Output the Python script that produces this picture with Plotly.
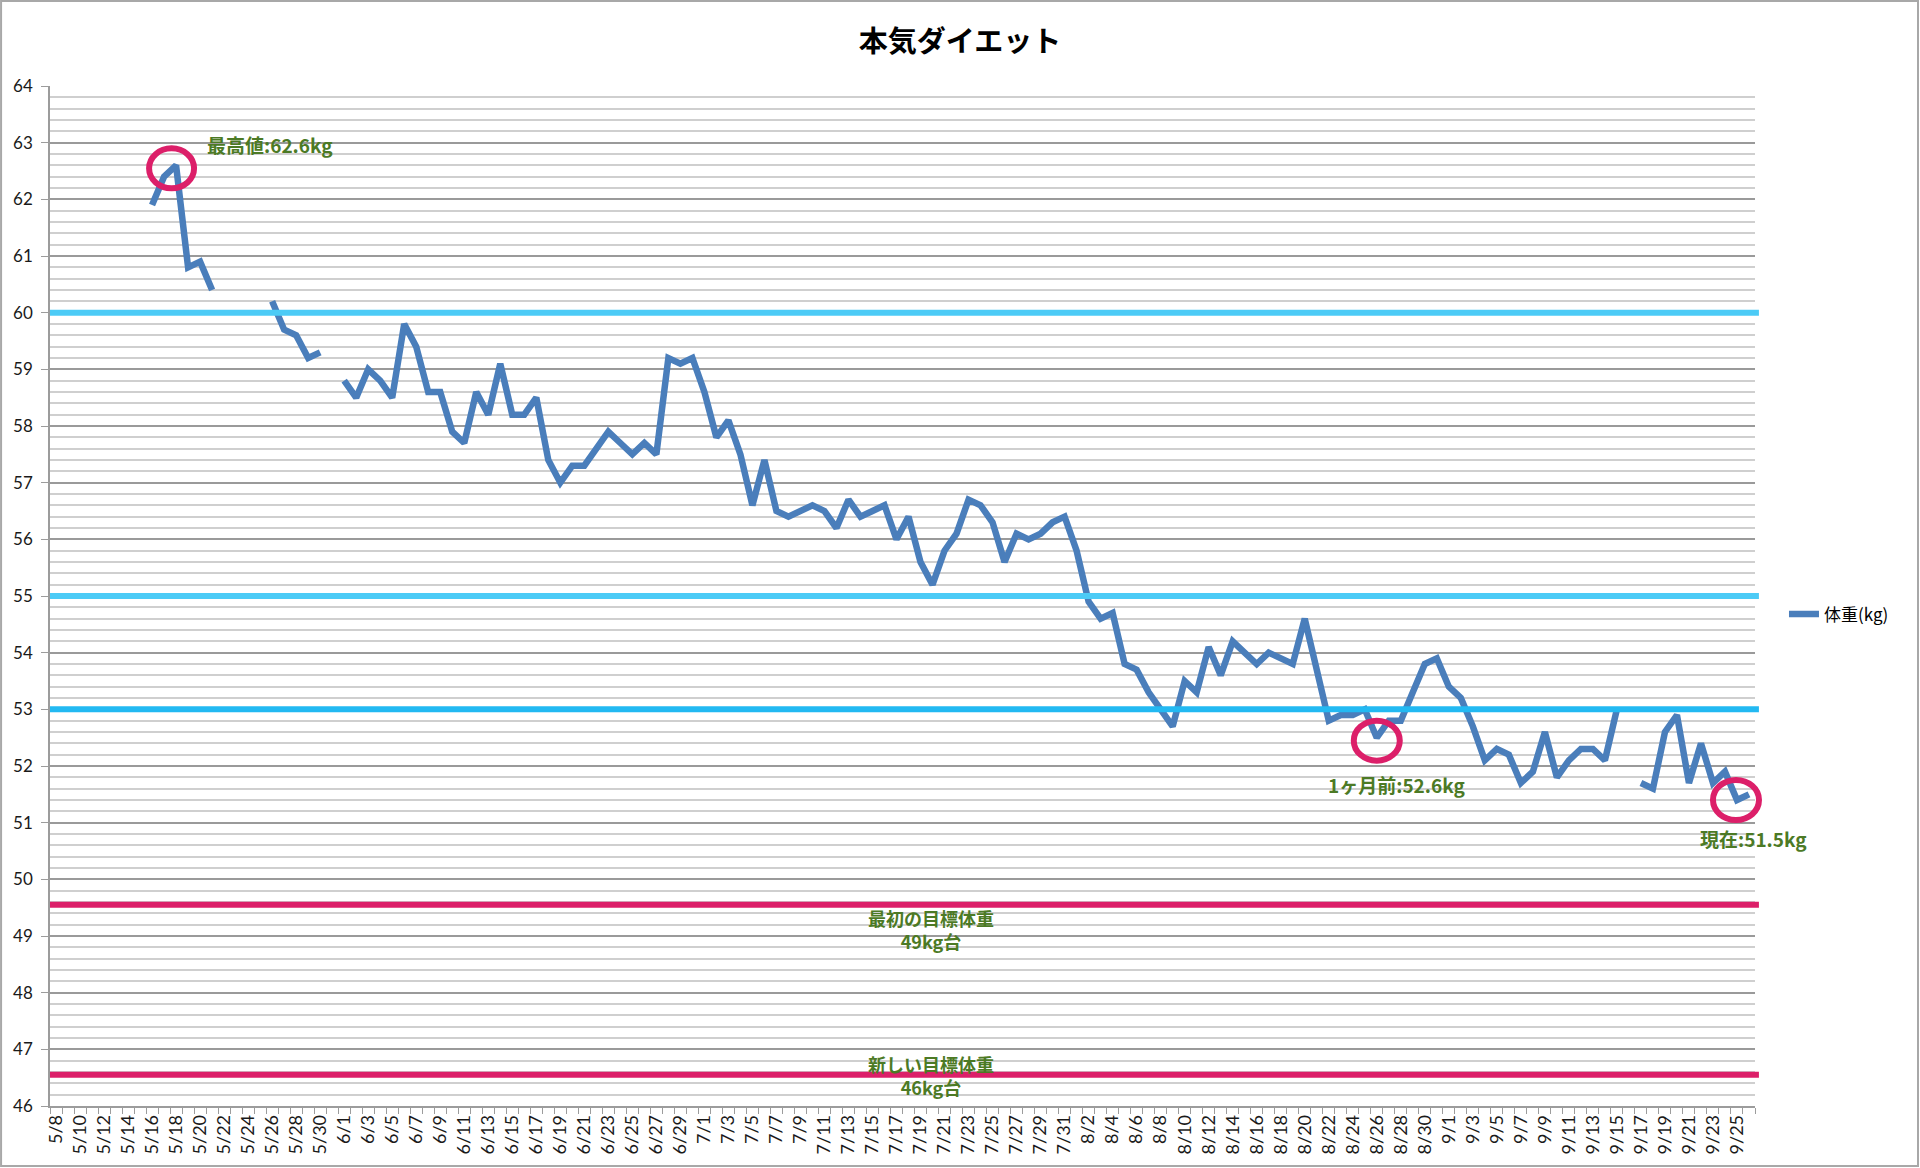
import pandas as pd
import plotly.graph_objects as go

# daily weight (kg), None = no measurement that day
may = [61.9, 62.4, 62.6, 60.8, 60.9, 60.4, None, None, None, None,
       60.2, 59.7, 59.6, 59.2, 59.3, None]                       # 5/16 - 5/31
jun = [58.8, 58.5, 59.0, 58.8, 58.5, 59.8, 59.4, 58.6, 58.6, 57.9,
       57.7, 58.6, 58.2, 59.1, 58.2, 58.2, 58.5, 57.4, 57.0, 57.3,
       57.3, 57.6, 57.9, 57.7, 57.5, 57.7, 57.5, 59.2, 59.1, 59.2]  # 6/1 - 6/30
jul = [58.6, 57.8, 58.1, 57.5, 56.6, 57.4, 56.5, 56.4, 56.5, 56.6,
       56.5, 56.2, 56.7, 56.4, 56.5, 56.6, 56.0, 56.4, 55.6, 55.2,
       55.8, 56.1, 56.7, 56.6, 56.3, 55.6, 56.1, 56.0, 56.1, 56.3,
       56.4]                                                       # 7/1 - 7/31
aug = [55.8, 54.9, 54.6, 54.7, 53.8, 53.7, 53.3, 53.0, 52.7, 53.5,
       53.3, 54.1, 53.6, 54.2, 54.0, 53.8, 54.0, 53.9, 53.8, 54.6,
       53.7, 52.8, 52.9, 52.9, 53.0, 52.5, 52.8, 52.8, 53.3, 53.8,
       53.9]                                                       # 8/1 - 8/31
sep = [53.4, 53.2, 52.7, 52.1, 52.3, 52.2, 51.7, 51.9, 52.6, 51.8,
       52.1, 52.3, 52.3, 52.1, 53.0, None, 51.7, 51.6, 52.6, 52.9,
       51.7, 52.4, 51.7, 51.9, 51.4, 51.5]                         # 9/1 - 9/26

weights = may + jun + jul + aug + sep
dates = pd.date_range("2013-05-16", periods=len(weights), freq="D")

axis_start = pd.Timestamp("2013-05-07 12:00")
axis_end = pd.Timestamp("2013-09-26 12:00")
y_min, y_max = 46, 64

# horizontal guide lines
cyan_levels = [60, 55, 53]
cyan_colors = ["#4CCBF6", "#4CCBF6", "#22B9F2"]
target_levels = [49.55, 46.55]
target_labels = ["最初の目標体重<br>49kg台", "新しい目標体重<br>46kg台"]

# circled points and their notes
marked_days = ["2013-05-18", "2013-08-26", "2013-09-25"]
marked_notes = ["最高値:62.6kg", "1ヶ月前:52.6kg", "現在:51.5kg"]

BLUE = "#4A7EBB"
PINK = "#DC1F69"
GREEN = "#4C7A25"
GRAY = "#9C9C9C"
JP = "'Noto Sans CJK JP', sans-serif"

fig = go.Figure()

fig.add_trace(
    go.Scatter(
        x=dates,
        y=weights,
        mode="lines",
        name="体重(kg)",
        line=dict(color=BLUE, width=6.5),
        connectgaps=False,
    )
)

# --- guide lines ---
for lvl, col in zip(cyan_levels, cyan_colors):
    fig.add_shape(type="line", xref="paper", yref="y", x0=0, x1=1.0023,
                  y0=lvl, y1=lvl, line=dict(color=col, width=6))

for lvl in target_levels:
    fig.add_shape(type="line", xref="paper", yref="y", x0=0, x1=1.0023,
                  y0=lvl, y1=lvl, line=dict(color=PINK, width=6))

label_shifts = [-25, -1]
for lvl, txt, ys in zip(target_levels, target_labels, label_shifts):
    fig.add_annotation(x=0.5167, xref="paper", y=lvl, yref="y", text=f"<b>{txt}</b>",
                       showarrow=False, yshift=ys, xanchor="center", yanchor="middle",
                       font=dict(family=JP, size=18, color=GREEN))

# --- circles + notes ---
# circles are placed in paper space (same spot as the data point) so that they
# are not clipped at the right edge of the plot area
lookup = dict(zip(dates.strftime("%Y-%m-%d"), weights))
span = (axis_end - axis_start).total_seconds()
circle_offsets = [(-27, 18, -23, 17), (-23, 23, -23, 17), (-24, 22, -20, 20)]
note_shifts = [(29, 21, "left"), (20, -47, "center"), (17, -38, "center")]
for day, note, (cx0, cx1, cy0, cy1), (xs, ys, xa) in zip(
        marked_days, marked_notes, circle_offsets, note_shifts):
    val = lookup[day]
    px = (pd.Timestamp(day) - axis_start).total_seconds() / span
    py = (val - y_min) / (y_max - y_min)
    fig.add_shape(type="circle", xref="paper", yref="paper", xsizemode="pixel", ysizemode="pixel",
                  xanchor=px, yanchor=py, x0=cx0, x1=cx1, y0=cy0, y1=cy1,
                  line=dict(color=PINK, width=6))
    fig.add_annotation(x=day, y=val, text=f"<b>{note}</b>", showarrow=False,
                       xshift=xs, yshift=ys, xanchor=xa, yanchor="middle",
                       font=dict(family=JP, size=19, color=GREEN))

# chart border
fig.add_shape(type="rect", xref="paper", yref="paper",
              x0=-0.0287, x1=1.0956, y0=-0.0588, y1=1.0833,
              line=dict(color="#A8A8A8", width=2), layer="below")

fig.update_layout(
    width=1920,
    height=1168,
    margin=dict(l=50, r=165, t=86, b=62, autoexpand=False),
    paper_bgcolor="white",
    plot_bgcolor="white",
    font=dict(family="Lato, 'Noto Sans CJK JP', sans-serif", size=17, color="#1a1a1a"),
    title=dict(text="<b>本気ダイエット</b>", x=0.5, xref="container", xanchor="center",
               y=1 - 42 / 1168, yanchor="middle",
               font=dict(family=JP, size=29, color="black")),
    showlegend=True,
    legend=dict(x=1.017, y=0.482, xanchor="left", yanchor="middle",
                font=dict(family=JP, size=17, color="black"),
                bgcolor="rgba(0,0,0,0)"),
)

fig.update_xaxes(
    type="date",
    range=[axis_start, axis_end],
    tick0="2013-05-08",
    dtick=2 * 86400000,
    tickformat="%-m/%-d",
    tickangle=-90,
    tickfont=dict(size=18),
    ticks="",
    showgrid=False,
    showline=True,
    linecolor=GRAY,
    linewidth=1.5,
    zeroline=False,
    minor=dict(ticks="outside", ticklen=6, tickcolor=GRAY, tickwidth=1,
               tick0=axis_start, dtick=86400000, showgrid=False),
)

fig.update_yaxes(
    range=[y_min, y_max],
    dtick=1,
    ticks="outside",
    ticklen=7,
    tickcolor=GRAY,
    ticklabelstandoff=5,
    showgrid=True,
    gridcolor="#9A9A9A",
    gridwidth=1.5,
    showline=True,
    linecolor=GRAY,
    linewidth=1.5,
    zeroline=False,
    minor=dict(dtick=0.2, showgrid=True, gridcolor="#CFCFCF", gridwidth=1.5),
)

fig.write_html("out.html", config={"displayModeBar": False},
               post_script="document.body.style.margin='0';")
